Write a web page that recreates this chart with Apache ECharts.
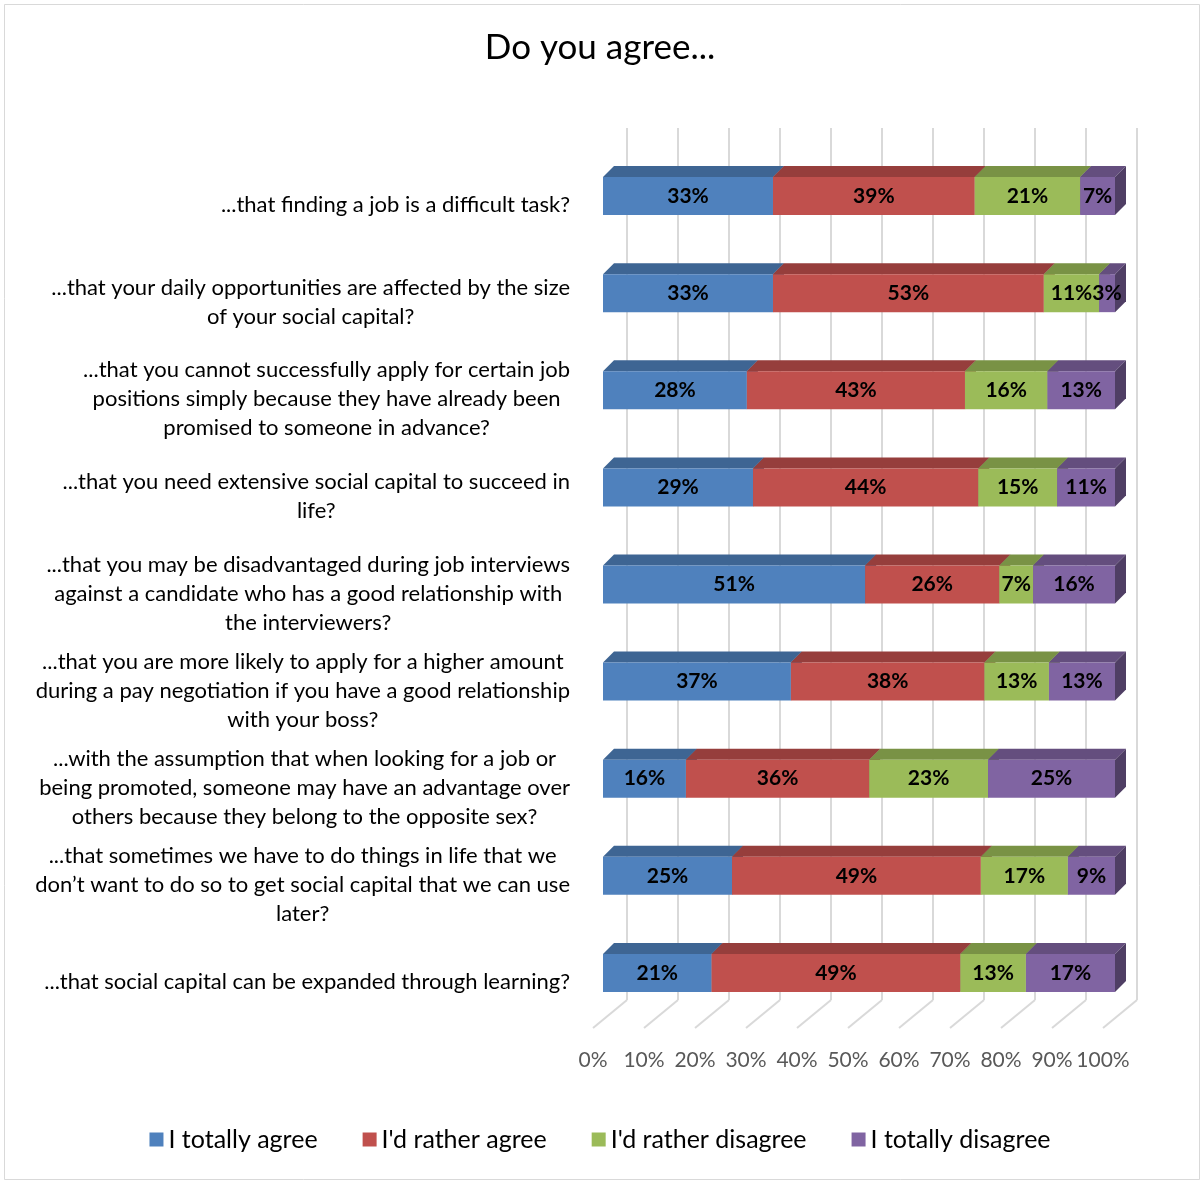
<!DOCTYPE html>
<html>
<head>
<meta charset="utf-8">
<script src="https://cdn.jsdelivr.net/npm/echarts@6/dist/echarts.min.js"></script>
<style>
  html, body { margin: 0; padding: 0; background: #fff; }
  #chart { width: 1200px; height: 1180px; }
</style>
</head>
<body>
<div id="chart"></div>
<script>
const categories = [
  "...that finding a job is a difficult task?",
  "...that your daily opportunities are affected by the size\nof your social capital?",
  "...that you cannot successfully apply for certain job\npositions simply because they have already been\npromised to someone in advance?",
  "...that you need extensive social capital to succeed in\nlife?",
  "...that you may be disadvantaged during job interviews\nagainst a candidate who has a good relationship with\nthe interviewers?",
  "...that you are more likely to apply for a higher amount\nduring a pay negotiation if you have a good relationship\nwith your boss?",
  "...with the assumption that when looking for a job or\nbeing promoted, someone may have an advantage over\nothers because they belong to the opposite sex?",
  "...that sometimes we have to do things in life that we\ndon\u2019t want to do so to get social capital that we can use\nlater?",
  "...that social capital can be expanded through learning?"
];
const seriesNames = ["I totally agree", "I'd rather agree", "I'd rather disagree", "I totally disagree"];
const totallyAgree    = [33.2, 33.2, 28.1, 29.3, 51.2, 36.7, 16.2, 25.2, 21.2];
const ratherAgree     = [39.4, 52.9, 42.6, 44.0, 26.2, 37.8, 35.8, 48.6, 48.6];
const ratherDisagree  = [20.6, 10.8, 16.1, 15.4,  6.6, 12.6, 23.2, 17.0, 12.8];
const totallyDisagree = [ 6.8,  3.1, 13.2, 11.3, 16.0, 12.9, 24.8,  9.2, 17.4];
const tickValues = [0, 10, 20, 30, 40, 50, 60, 70, 80, 90, 100];
const colors = ['#4F81BD', '#C0504D', '#9BBB59', '#8064A2'];

const FONT = 'Lato';
const seriesValues = [totallyAgree, ratherAgree, ratherDisagree, totallyDisagree];

function shade(hex, f) {
  const n = parseInt(hex.slice(1), 16);
  const r = Math.round(((n >> 16) & 255) * f), g = Math.round(((n >> 8) & 255) * f), b = Math.round((n & 255) * f);
  return 'rgb(' + r + ',' + g + ',' + b + ')';
}

const HALF = 19, D = 11;

const starts = categories.map(() => 0);
const faceSeries = [];
const barSeries = [];
seriesValues.forEach((vals, si) => {
  const data = vals.map((v, i) => {
    const item = [i, starts[i], starts[i] + v];
    starts[i] += v;
    return item;
  });
  const topColor = shade(colors[si], 0.78);
  const sideColor = shade(colors[si], 0.62);
  faceSeries.push({
    type: 'custom',
    name: 'face' + si,
    xAxisIndex: 0, yAxisIndex: 0,
    z: 1,
    silent: true,
    data: data,
    renderItem: function (params, api) {
      const cat = api.value(0), s = api.value(1), e = api.value(2);
      const a = api.coord([s, cat]), b = api.coord([e, cat]);
      const top = a[1] - HALF, bottom = a[1] + HALF;
      return {
        type: 'group',
        children: [
          { type: 'polygon', shape: { points: [[a[0], top], [b[0], top], [b[0] + D, top - D], [a[0] + D, top - D]] }, style: { fill: topColor } },
          { type: 'polygon', shape: { points: [[b[0], top], [b[0] + D, top - D], [b[0] + D, bottom - D], [b[0], bottom]] }, style: { fill: sideColor } }
        ]
      };
    }
  });
  barSeries.push({
    type: 'bar',
    name: seriesNames[si],
    stack: 'total',
    xAxisIndex: 0, yAxisIndex: 0,
    z: 2,
    barWidth: 38,
    itemStyle: { color: colors[si] },
    label: {
      show: true,
      position: 'inside',
      formatter: p => Math.round(p.value) + '%',
      fontFamily: FONT,
      fontWeight: 'bold',
      fontSize: 21,
      color: '#000'
    },
    data: vals
  });
});

const floorSeries = {
  type: 'custom',
  xAxisIndex: 1, yAxisIndex: 1,
  silent: true,
  z: 0,
  data: tickValues,
  renderItem: function (params, api) {
    const p = api.coord([api.value(0), 0]);
    return { type: 'line', shape: { x1: p[0], y1: p[1], x2: p[0] + 34, y2: p[1] - 28 }, style: { stroke: '#d9d9d9', lineWidth: 2 } };
  }
};

const chart = echarts.init(document.getElementById('chart'), null, { renderer: 'canvas' });
chart.setOption({
  animation: false,
  backgroundColor: '#fff',
  title: {
    text: 'Do you agree...',
    left: 'center',
    top: 25,
    textStyle: { fontFamily: FONT, fontSize: 35, fontWeight: 'normal', color: '#000' }
  },
  legend: {
    data: seriesNames,
    bottom: 23,
    left: 'center',
    icon: 'rect',
    itemWidth: 14,
    itemHeight: 14,
    itemGap: 45,
    textStyle: { fontFamily: FONT, fontSize: 25, color: '#000' }
  },
  graphic: [{
    type: 'rect', left: 2, top: 2, shape: { width: 1195, height: 1175 },
    style: { fill: 'none', stroke: '#d9d9d9', lineWidth: 1 }, silent: true, z: -10
  }],
  grid: [
    { left: 603, right: 85, top: 147.5, bottom: 158.5 },
    { left: 593, width: 510, top: 1000, height: 28 },
    { left: 627, width: 510, top: 128, bottom: 180 }
  ],
  xAxis: [
    { type: 'value', gridIndex: 0, min: 0, max: 100, show: false },
    {
      type: 'value', gridIndex: 1, min: 0, max: 100, interval: 10,
      axisLine: { show: false }, axisTick: { show: false }, splitLine: { show: false },
      axisLabel: { formatter: '{value}%', fontFamily: FONT, fontSize: 21, color: '#595959', margin: 22 }
    },
    {
      type: 'value', gridIndex: 2, min: 0, max: 100, interval: 10,
      axisLine: { show: false }, axisTick: { show: false }, axisLabel: { show: false },
      splitLine: { show: true, lineStyle: { color: '#d9d9d9', width: 2 } }
    }
  ],
  yAxis: [
    {
      type: 'category', gridIndex: 0, data: categories, inverse: true,
      axisLine: { show: false }, axisTick: { show: false },
      axisLabel: {
        margin: 33,
        padding: [18, 0, 0, 0],
        formatter: v => v.split('\n').map(l => '{c|' + l + '}').join('\n'),
        rich: { c: { align: 'center', fontFamily: FONT, fontSize: 22, lineHeight: 29, color: '#000' } }
      }
    },
    { type: 'value', gridIndex: 1, min: 0, max: 1, show: false },
    { type: 'value', gridIndex: 2, min: 0, max: 1, show: false }
  ],
  series: [floorSeries].concat(faceSeries, barSeries)
});
</script>
</body>
</html>
